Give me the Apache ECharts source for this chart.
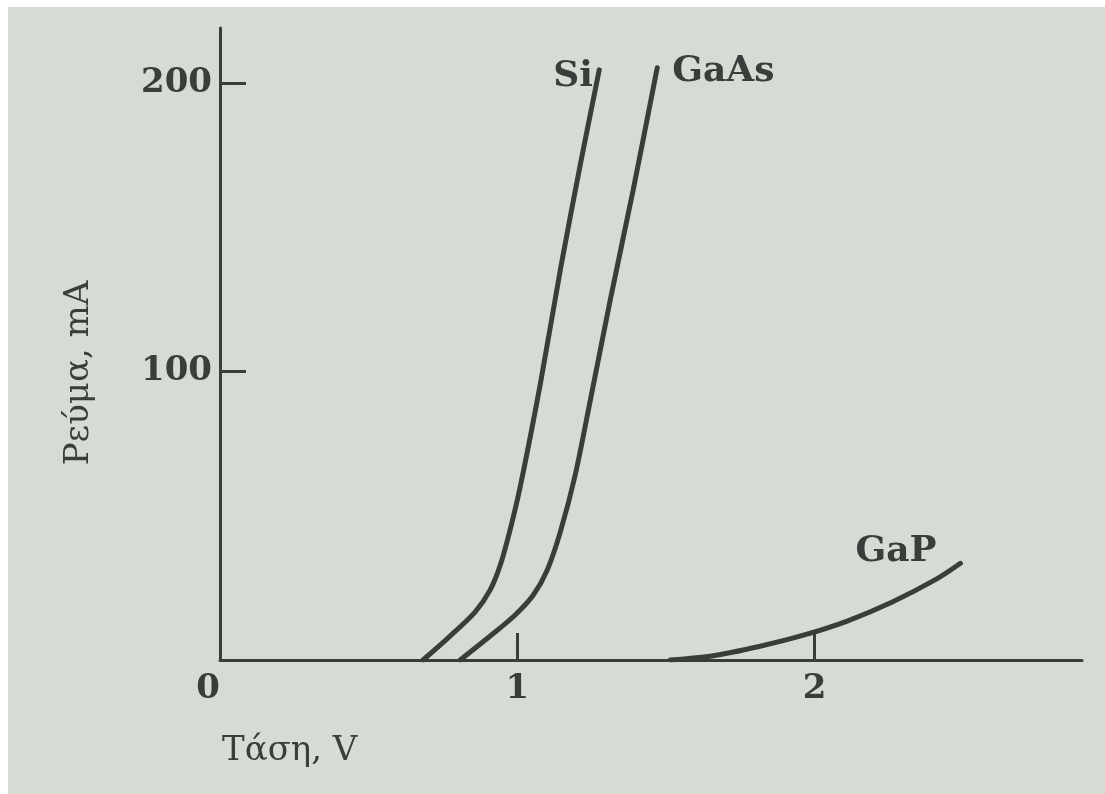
<!DOCTYPE html>
<html>
<head>
<meta charset="utf-8">
<script src="https://cdn.jsdelivr.net/npm/echarts@6/dist/echarts.min.js"></script>
<style>
body{margin:0;background:#ffffff;}
#main{position:absolute;left:8px;top:7px;width:1097px;height:787px;background:#d6dcd5;}
</style>
</head>
<body>
<div id="main"></div>
<script>
// voltage (V) and current (mA)
var siV = [0.683, 0.774, 0.858, 0.909, 0.943, 0.976, 1.01, 1.077, 1.145, 1.212, 1.276];
var siI = [0, 8.3, 16.6, 24.3, 32.9, 45.1, 60, 95.3, 135.2, 171.6, 204.5];
var gaasV = [0.808, 0.909, 0.993, 1.054, 1.101, 1.145, 1.195, 1.246, 1.313, 1.39, 1.471];
var gaasI = [0, 8.3, 15.6, 22.5, 31.2, 44.4, 64.1, 90.1, 124.8, 162.9, 205.2];
var gapV = [1.515, 1.66, 1.81, 1.96, 2.11, 2.26, 2.41, 2.491];
var gapI = [0, 1.5, 4.6, 8.5, 13.5, 20, 28, 33.5];
var xLabels = [0, 1, 2];
var xTicks = [1, 2];
var yTicks = [100, 200];

var ink = '#3a3e3b';

function pairs(xs, ys){
	var out = [];
	for(var i=0;i<xs.length;i++){
		out.push([xs[i], ys[i]]);
	}
	return out;
}

function curve(name, xs, ys, off){
	return {
		name: name,
		type: 'line',
		data: pairs(xs, ys),
		smooth: 0.3,
		symbol: 'none',
		lineStyle: {color: ink, width: 5, cap: 'round'},
		endLabel: {
			show: true,
			formatter: name,
			offset: off,
			color: ink,
			fontFamily: 'DejaVu Serif',
			fontWeight: 'bold',
			fontSize: 36
		}
	};
}

var myChart = echarts.init(document.getElementById('main'));
var option = {
	animation: false,
	grid: {left: 212, right: 23, top: 21, bottom: 134},
	xAxis: {
		type: 'value',
		min: 0,
		max: 2.9,
		axisLine: {lineStyle: {color: ink, width: 3}},
		axisTick: {show: true, inside: true, length: 27, customValues: xTicks, lineStyle: {color: ink, width: 3}},
		axisLabel: {
			customValues: xLabels,
			alignMinLabel: 'right',
			margin: 12,
			color: ink,
			fontFamily: 'DejaVu Serif',
			fontWeight: 'bold',
			fontSize: 34
		},
		splitLine: {show: false}
	},
	yAxis: {
		type: 'value',
		min: 0,
		max: 219,
		axisLine: {show: true, lineStyle: {color: ink, width: 3}},
		axisTick: {show: true, inside: true, length: 26, customValues: yTicks, lineStyle: {color: ink, width: 3}},
		axisLabel: {
			customValues: yTicks,
			margin: 8,
			color: ink,
			fontFamily: 'DejaVu Serif',
			fontWeight: 'bold',
			fontSize: 34
		},
		splitLine: {show: false}
	},
	graphic: [
		{
			type: 'text',
			left: 214,
			top: 727,
			style: {text: 'Τάση, V', fill: ink, font: '34px "DejaVu Serif"'}
		},
		{
			type: 'text',
			x: 71,
			y: 366,
			rotation: Math.PI / 2,
			style: {text: 'Ρεύμα, mA', fill: ink, font: '34px "DejaVu Serif"', align: 'center', verticalAlign: 'middle'}
		}
	],
	series: [
		curve('Si', siV, siI, [-54, 7]),
		curve('GaAs', gaasV, gaasI, [7, 4]),
		curve('GaP', gapV, gapI, [-113, -12])
	]
};
myChart.setOption(option);
</script>
</body>
</html>
